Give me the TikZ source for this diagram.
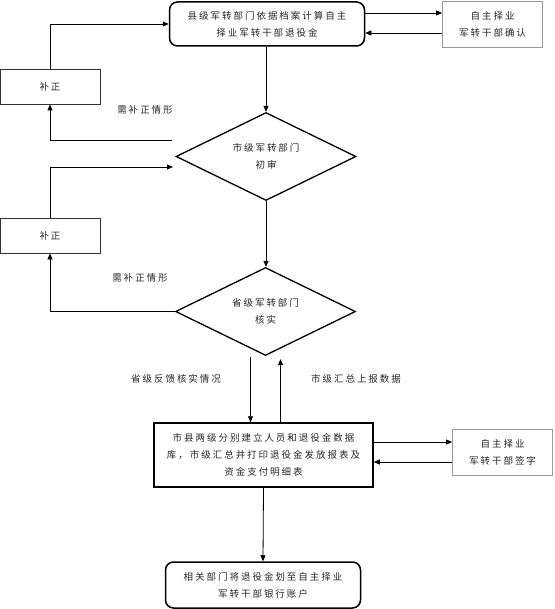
\documentclass[tikz,border=0pt]{standalone}
\usepackage{fontspec}
\usepackage{tikz}
\usetikzlibrary{shapes.geometric, arrows.meta}
\newfontfamily\cjk[LetterSpace=21]{Noto Sans CJK SC}

\tikzset{
  every node/.style={font=\cjk\fontsize{9.5}{17}\selectfont, align=center, text=black!85},
  roundbox/.style={draw, rounded corners=8pt, line width=1.5pt, minimum width=195pt, minimum height=44pt},
  sidebox/.style={draw=gray!80, line width=0.8pt, minimum width=100pt, minimum height=46pt},
  fixbox/.style={draw=black!80, line width=0.8pt, minimum width=100pt, minimum height=35pt},
  checkbox/.style={draw, diamond, aspect=2, inner sep=0pt, line width=1.3pt, minimum width=180pt, minimum height=88pt},
  flow/.style={->, line width=0.8pt}
}

\begin{document}
\begin{tikzpicture}[x=1pt, y=-1pt, >={Triangle[length=6pt,width=5pt]}]
\useasboundingbox (0,0) rectangle (554,609);
\node[roundbox] (county) at (267,24) {县级军转部门依据档案计算自主\\择业军转干部退役金};
\node[sidebox] (confirm) at (492.5,24) {自主择业\\军转干部确认};
\node[fixbox] (fixA) at (50,86.5) {补正};
\node[checkbox] (city) at (266,156.5) {市级军转部门\\初审};
\node[fixbox] (fixB) at (50,235.5) {补正};
\node[checkbox] (prov) at (265.5,311.5) {省级军转部门\\核实};
\node[draw, line width=1.5pt, minimum width=219pt, minimum height=64pt] (base) at (263.5,455)
  {市县两级分别建立人员和退役金数据\\库，市级汇总并打印退役金发放报表及\\资金支付明细表};
\node[sidebox] (sign) at (502.5,452) {自主择业\\军转干部签字};
\node[roundbox, minimum height=46pt] (bank) at (263,585) {相关部门将退役金划至自主择业\\军转干部银行账户};

% labels
\node (needA) at (145,110) {需补正情形};
\node (needB) at (140,278) {需补正情形};
\node (feedback) at (176,379) {省级反馈核实情况};
\node (report) at (356,379) {市级汇总上报数据};

\coordinate (cityback) at (172,140);
\coordinate (cityin) at (173,167);

\draw[flow] ([yshift=11pt]county.east) -- ([yshift=11pt]confirm.west);
\draw[flow] ([yshift=-9pt]confirm.west) -- ([yshift=-9pt]county.east);
\draw[flow] (fixA.north) |- (county.west);
\draw[flow] (county.south -| city.north) -- (city.north);
\draw[flow] (cityback) -| (fixA.south);
\draw[flow] (fixB.north) |- (cityin);
\draw[flow] (city.south) -- (city.south |- prov.north);
\draw[flow] (prov.west) -| (fixB.south);
\draw[flow] ([xshift=-15pt,yshift=-1pt]prov.south) -- ([xshift=-15pt]prov.south |- base.north);
\draw[flow] ([xshift=15pt]prov.south |- base.north) -- ([xshift=15pt,yshift=-3pt]prov.south);
\draw[flow] ([yshift=13pt]base.east) -- ([yshift=13pt]base.east -| sign.west);
\draw[flow] ([yshift=-7pt]base.east -| sign.west) -- ([yshift=-7pt]base.east);
\draw[flow] (base.south) -- (bank.north);
\end{tikzpicture}
\end{document}
